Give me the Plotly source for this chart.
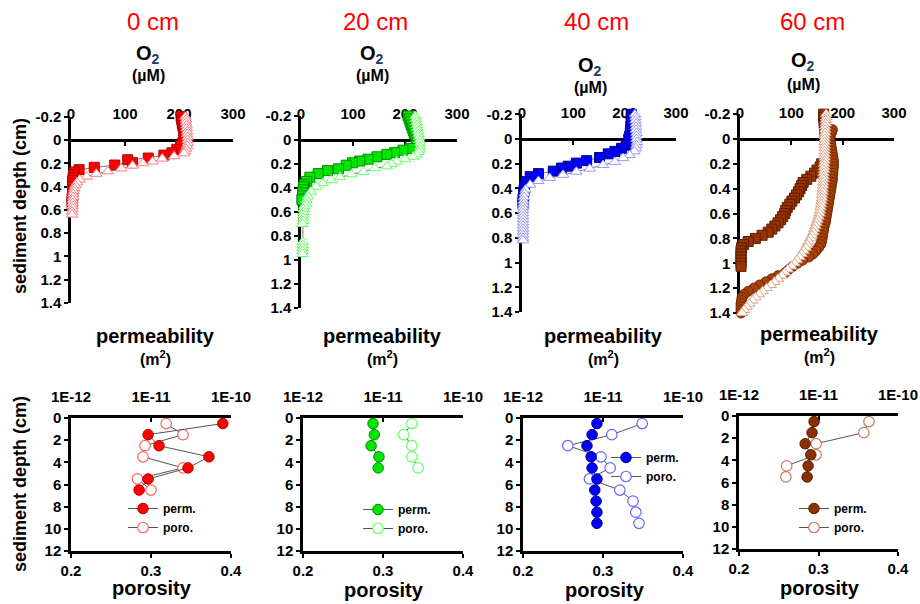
import plotly.graph_objects as go

W, H = 920, 604
FONT = "Liberation Sans, Arial, sans-serif"

# ---------------- O2 micro-profiles (top row) ----------------
# 0 cm
d0_sq = [-0.2, -0.175, -0.15, -0.125, -0.1, -0.075, -0.05, -0.025,
         0, 0.025, 0.05, 0.08, 0.11, 0.13, 0.155, 0.17, 0.195, 0.215, 0.235, 0.255, 0.275, 0.3,
         0.325, 0.35, 0.375, 0.4, 0.425, 0.45, 0.475, 0.5, 0.525, 0.55]
o0_sq = [204, 205, 206, 207, 208, 209, 210, 210,
         209, 207, 203, 196, 187, 172, 143, 105, 114, 81, 43, 15, 7, 5,
         4, 3, 3, 3, 3, 3, 3, 2, 2, 2]
d0_tr = [-0.2, -0.175, -0.15, -0.125, -0.1, -0.075, -0.05, -0.025,
         0, 0.025, 0.05, 0.075, 0.1, 0.115, 0.14, 0.16, 0.185, 0.2,
         0.22, 0.245, 0.27, 0.29, 0.315, 0.34, 0.365, 0.39, 0.415, 0.44,
         0.465, 0.49, 0.515, 0.54, 0.565, 0.59, 0.615, 0.64]
o0_tr = [212, 213, 213, 214, 214, 215, 215, 216,
         216, 216, 215, 213, 211, 209, 191, 169, 151, 133,
         114, 93, 68, 47, 29, 16, 11, 8, 6, 5,
         4, 4, 3, 3, 3, 3, 2, 2]

# 20 cm
d20_sq = [-0.2, -0.175, -0.15, -0.125, -0.1, -0.075, -0.05, -0.025,
          0, 0.025, 0.045, 0.07, 0.085, 0.105, 0.12, 0.14, 0.16, 0.175,
          0.19, 0.21, 0.24, 0.255, 0.28, 0.31, 0.345, 0.37, 0.39, 0.415,
          0.44, 0.465, 0.49, 0.5]
o20_sq = [206, 208, 210, 212, 214, 216, 218, 221,
          224, 226, 222, 210, 196, 180, 165, 146, 129, 113,
          99, 87, 72, 51, 33, 17, 11, 7, 5, 4,
          3, 3, 2, 2]
d20_tr = [-0.2, -0.175, -0.15, -0.125, -0.1, -0.075, -0.05, -0.025,
          0, 0.025, 0.055, 0.08, 0.1, 0.12, 0.14, 0.16, 0.18, 0.2,
          0.22, 0.235, 0.265, 0.285, 0.31, 0.335, 0.36, 0.39, 0.43, 0.47,
          0.5, 0.53, 0.55, 0.575, 0.6, 0.625, 0.65, 0.675, 0.7,
          0.85, 0.875, 0.9, 0.925, 0.95]
o20_tr = [220, 221, 222, 223, 224, 225, 226, 227,
          228, 229, 229, 228, 226, 222, 216, 200, 184, 174,
          165, 142, 120, 97, 75, 58, 42, 29, 19, 13,
          11, 10, 6, 5, 5, 4, 4, 4, 3,
          3, 3, 3, 3, 3]

# 40 cm
d40_sq = [-0.2, -0.175, -0.15, -0.125, -0.1, -0.075, -0.05, -0.025,
          0, 0.05, 0.075, 0.1, 0.12, 0.15, 0.175, 0.195, 0.22, 0.235,
          0.26, 0.28, 0.305, 0.345, 0.385, 0.41, 0.435, 0.46, 0.485, 0.51,
          0.525]
o40_sq = [213, 213, 213, 213, 212, 212, 211, 210,
          208, 203, 194, 181, 168, 151, 126, 106, 90, 77,
          61, 32, 16, 9, 5, 4, 3, 3, 2, 2,
          2]
d40_tr = [-0.2, -0.175, -0.15, -0.125, -0.1, -0.075, -0.05, -0.025,
          0, 0.025, 0.05, 0.075, 0.1, 0.13, 0.155, 0.185, 0.21, 0.24,
          0.265, 0.29, 0.315, 0.34, 0.37, 0.41, 0.44, 0.47, 0.5, 0.525,
          0.55, 0.575, 0.6, 0.625, 0.65, 0.675, 0.7, 0.725, 0.75, 0.775,
          0.8, 0.82]
o40_tr = [220, 221, 221, 222, 222, 222, 223, 223,
          223, 224, 223, 222, 219, 210, 197, 181, 158, 132,
          106, 80, 54, 32, 16, 7, 5, 4, 3, 3,
          2, 2, 2, 2, 2, 2, 2, 2, 2, 2,
          2, 2]

# 60 cm
d60_sq = [-0.2, -0.175, -0.15, -0.125, -0.1, -0.075, -0.05, -0.025,
          0, 0.025, 0.05, 0.075, 0.1, 0.125, 0.15, 0.175, 0.2, 0.225,
          0.25, 0.275, 0.3, 0.325, 0.35, 0.375, 0.4, 0.425, 0.45, 0.475,
          0.5, 0.525, 0.55, 0.575, 0.6, 0.625, 0.65, 0.675, 0.7, 0.725,
          0.75, 0.775, 0.8, 0.825, 0.85, 0.875, 0.9, 0.925, 0.95, 0.975,
          1.0, 1.025]
o60_sq = [163, 163, 164, 164, 165, 165, 166, 166,
          167, 168, 170, 173, 176, 178, 178, 170, 159, 156,
          150, 145, 138, 130, 123, 120, 117, 114, 110, 106,
          101, 97, 92, 89, 87, 83, 79, 74, 68, 62,
          55, 43, 30, 16, 7, 3, 2, 2, 2, 2,
          2, 2]
d60_ci = [-0.075, -0.05, -0.025, 0, 0.025, 0.05, 0.075, 0.1, 0.125, 0.15,
          0.175, 0.2, 0.225, 0.25, 0.275, 0.3, 0.325, 0.35, 0.375, 0.4,
          0.425, 0.45, 0.475, 0.5, 0.525, 0.55, 0.575, 0.6, 0.625, 0.65,
          0.675, 0.7, 0.725, 0.75, 0.775, 0.8, 0.825, 0.85, 0.875, 0.9,
          0.925, 0.95, 0.975, 1.0, 1.025, 1.05, 1.075, 1.1, 1.125, 1.15,
          1.175, 1.2, 1.225, 1.25, 1.275, 1.3, 1.325, 1.35, 1.375, 1.4]
o60_ci = [180, 178, 176, 175, 176, 177, 178, 179, 180, 181,
          182, 182, 182, 181, 181, 180, 180, 179, 178, 177,
          176, 175, 174, 173, 172, 171, 170, 169, 168, 167,
          166, 164, 163, 162, 161, 160, 159, 157, 153, 148,
          142, 134, 122, 112, 103, 95, 88, 74, 62, 50,
          38, 27, 16, 8, 4, 3, 2, 2, 2, 2]
d60_tr = [-0.2, -0.175, -0.15, -0.125, -0.1, -0.075, -0.05, -0.025, 0,
          0.025, 0.05, 0.075, 0.1, 0.125, 0.15, 0.175, 0.2, 0.225, 0.25,
          0.275, 0.3, 0.325, 0.35, 0.375, 0.4, 0.425, 0.45, 0.475, 0.5,
          0.525, 0.55, 0.575, 0.6, 0.625, 0.65, 0.675, 0.7, 0.725, 0.75,
          0.775, 0.8, 0.825, 0.85, 0.875, 0.9, 0.925, 0.95, 0.975, 1.0,
          1.025, 1.05, 1.075, 1.1, 1.125, 1.15, 1.175, 1.2, 1.225, 1.25,
          1.275, 1.3, 1.325, 1.35, 1.375, 1.4]
o60_tr = [168, 168, 167, 167, 166, 166, 166, 165, 165,
          165, 165, 165, 165, 165, 165, 165, 164, 164, 164,
          163, 163, 163, 162, 162, 161, 161, 160, 160, 159,
          158, 157, 156, 155, 153, 151, 149, 147, 145, 143,
          140, 137, 134, 131, 128, 124, 120, 116, 111, 106,
          100, 93, 87, 81, 74, 67, 60, 52, 44, 37,
          30, 24, 18, 13, 8, 4]

# ---------------- permeability / porosity (bottom row) ----------------
b0_depth = [0.5, 1.5, 2.5, 3.5, 4.5, 5.5, 6.5]
b0_perm = [7.9e-11, 9.2e-12, 1.26e-11, 5.3e-11, 2.9e-11, 9.2e-12, 7.1e-12]
b0_poro = [0.319, 0.340, 0.2925, 0.290, 0.340, 0.283, 0.300]

b20_depth = [0.5, 1.5, 2.5, 3.5, 4.5]
b20_perm = [7.5e-12, 7.8e-12, 7.1e-12, 8.9e-12, 8.7e-12]
b20_poro = [0.336, 0.326, 0.336, 0.336, 0.344]

b40_depth = [0.5, 1.5, 2.5, 3.5, 4.5, 5.5, 6.5, 7.5, 8.5, 9.5]
b40_perm = [8.4e-12, 7.3e-12, 6.3e-12, 7.1e-12, 7.3e-12, 8.4e-12, 7.9e-12, 8.2e-12, 8.4e-12, 8.4e-12]
b40_poro = [0.349, 0.311, 0.256, 0.2975, 0.309, 0.283, 0.321, 0.3375, 0.341, 0.345]

b60_depth = [0.5, 1.5, 2.5, 3.5, 4.5, 5.5]
b60_perm = [8.8e-12, 8.3e-12, 6.8e-12, 8.0e-12, 7.4e-12, 7.2e-12]
b60_poro = [0.3635, 0.357, 0.297, 0.297, 0.260, 0.259]

headers = ["0 cm", "20 cm", "40 cm", "60 cm"]
o2_ticks = [0, 100, 200, 300]
depth_ticks = [-0.2, 0, 0.2, 0.4, 0.6, 0.8, 1, 1.2, 1.4]
depth_ticktext = ["-0.2", "0", "0.2", "0.4", "0.6", "0.8", "1", "1.2", "1.4"]
perm_ticks = [1e-12, 1e-11, 1e-10]
perm_ticktext = ["1E-12", "1E-11", "1E-10"]
poro_ticks = [0.2, 0.3, 0.4]
poro_ticktext = ["0.2", "0.3", "0.4"]
core_ticks = [0, 2, 4, 6, 8, 10, 12]

# ---------------- styling ----------------
def px(x):
    return x / W

def py(y):
    return 1 - y / H

LINE = "#555555"
AX = dict(showgrid=False, zeroline=False, showline=True, linecolor="black",
          linewidth=2.5, tickcolor="black", tickwidth=2, ticklen=4,
          automargin=False,
          tickfont=dict(family=FONT, size=15, color="black", weight="bold"))

top_geo = [  # x0, x1, y(-0.2), y(1.4), y(0)
    (71, 233, 116.7, 303, 140),
    (301, 457, 116, 308, 140),
    (522, 676, 114.3, 312, 139),
    (740, 894, 114.1, 313, 139),
]
bot_geo = [  # x0, x1, y(0), y(12)
    (71, 231, 418, 551),
    (303, 463, 418, 551),
    (523, 683, 418, 551),
    (739, 898, 416, 549),
]

top_series = [
    [(d0_sq, o0_sq, "square", "#FF0000", "#B00000"),
     (d0_tr, o0_tr, "triangle-up", "white", "#FF7C80")],
    [(d20_sq, o20_sq, "square", "#00E600", "#008C00"),
     (d20_tr, o20_tr, "triangle-up", "white", "#66FF66")],
    [(d40_sq, o40_sq, "square", "#0000FF", "#000090"),
     (d40_tr, o40_tr, "triangle-up", "white", "#9999FF")],
    [(d60_sq, o60_sq, "square", "#993300", "#5A1E00"),
     (d60_ci, o60_ci, "circle", "#A8420C", "#6B2800"),
     (d60_tr, o60_tr, "triangle-up", "white", "#E0A486")],
]

bot_series = [
    (b0_depth, b0_perm, b0_poro, "#FF0000", "#B00000", "#FF6666"),
    (b20_depth, b20_perm, b20_poro, "#00E600", "#008C00", "#66FF66"),
    (b40_depth, b40_perm, b40_poro, "#0000FF", "#000090", "#6666FF"),
    (b60_depth, b60_perm, b60_poro, "#8B3000", "#5A1E00", "#C87A5A"),
]

legend_pos = [(123, 494), (358, 495), (606, 443), (794, 494)]

fig = go.Figure()
layout = dict(width=W, height=H,
              margin=dict(l=0, r=0, t=0, b=0, autoexpand=False),
              paper_bgcolor="white", plot_bgcolor="white", showlegend=True)

for i, (x0, x1, yt, yb, y0) in enumerate(top_geo):
    n = i + 1
    layout[f"xaxis{n}"] = dict(AX, domain=[px(x0), px(x1)], range=[0, 300],
                               anchor="free", position=py(y0), side="top",
                               ticks="inside", tickvals=o2_ticks,
                               ticklabelstandoff=14, layer="below traces")
    layout[f"yaxis{n}"] = dict(AX, domain=[py(yb), py(yt)], range=[1.4, -0.2],
                               anchor=f"x{n}", ticks="outside",
                               tickvals=depth_ticks, ticktext=depth_ticktext,
                               layer="below traces")
    for d, v, sym, fill, edge in top_series[i]:
        fig.add_trace(go.Scatter(
            x=v, y=d, xaxis=f"x{n}", yaxis=f"y{n}", mode="lines+markers",
            line=dict(color=LINE, width=0.8), cliponaxis=False, showlegend=False,
            marker=dict(symbol=sym, size=10, color=fill, line=dict(color=edge, width=1))))

for i, (x0, x1, y0, y12) in enumerate(bot_geo):
    nb = i + 5   # porosity axis / shared y
    nt = i + 9   # permeability (log) axis on top
    layout[f"xaxis{nb}"] = dict(AX, domain=[px(x0), px(x1)], range=[0.2, 0.4],
                                anchor=f"y{nb}", side="bottom", ticks="outside",
                                tickvals=poro_ticks, ticktext=poro_ticktext)
    layout[f"xaxis{nt}"] = dict(AX, type="log", range=[-12, -10],
                                overlaying=f"x{nb}", anchor=f"y{nb}", side="top",
                                ticks="inside", tickvals=perm_ticks,
                                ticktext=perm_ticktext, ticklabelstandoff=7)
    layout[f"yaxis{nb}"] = dict(AX, domain=[py(y12), py(y0)], range=[12, 0],
                                anchor=f"x{nb}", ticks="outside", tickvals=core_ticks)
    depth, perm, poro, fill, edge, open_edge = bot_series[i]
    leg = "legend" if i == 0 else f"legend{i + 1}"
    fig.add_trace(go.Scatter(
        x=perm, y=depth, xaxis=f"x{nt}", yaxis=f"y{nb}", mode="lines+markers",
        name="perm.", legend=leg, cliponaxis=False,
        line=dict(color=LINE, width=1),
        marker=dict(symbol="circle", size=10.5, color=fill, line=dict(color=edge, width=1))))
    fig.add_trace(go.Scatter(
        x=poro, y=depth, xaxis=f"x{nb}", yaxis=f"y{nb}", mode="lines+markers",
        name="poro.", legend=leg, cliponaxis=False,
        line=dict(color=LINE, width=1),
        marker=dict(symbol="circle", size=10.5, color="white", line=dict(color=open_edge, width=1.2))))
    lx, ly = legend_pos[i]
    layout[leg] = dict(x=px(lx), y=py(ly), xanchor="left", yanchor="top",
                       bgcolor="rgba(0,0,0,0)", itemwidth=30, tracegroupgap=0,
                       font=dict(family=FONT, size=12, color="black", weight="bold"))

fig.update_layout(**layout)

def ann(text, x, y, size, color="black", bold=True, angle=0):
    fig.add_annotation(text=text, x=px(x), y=py(y), xref="paper", yref="paper",
                       showarrow=False, xanchor="center", yanchor="middle",
                       textangle=angle,
                       font=dict(family=FONT, size=size, color=color,
                                 weight="bold" if bold else "normal"))

head_x = [153, 375, 596, 812]
o2_pos = [(148, 54, 76), (372, 54, 76), (590, 66, 87), (803, 62, 84)]
perm_pos = [(155, 336, 358), (382, 336, 358), (603, 336, 358), (819, 334, 356)]
poro_pos = [(152, 588), (384, 590), (605, 590), (820, 588)]

for i in range(4):
    ann(headers[i], head_x[i], 21, 24, color="#FF0000", bold=False)
    x, y1, y2 = o2_pos[i]
    ann("O<sub><span style='color:#1F3864'>2</span></sub>", x, y1, 20)
    ann("(µM)", x, y2, 16)
    x, y1, y2 = perm_pos[i]
    ann("permeability", x, y1, 20)
    ann("(m<sup>2</sup>)", x, y2, 16)
    x, y = poro_pos[i]
    ann("porosity", x, y, 20)

ann("sediment depth (cm)", 20, 206, 18, angle=-90)
ann("sediment depth (cm)", 20, 484, 18, angle=-90)

fig.write_html("out.html")
